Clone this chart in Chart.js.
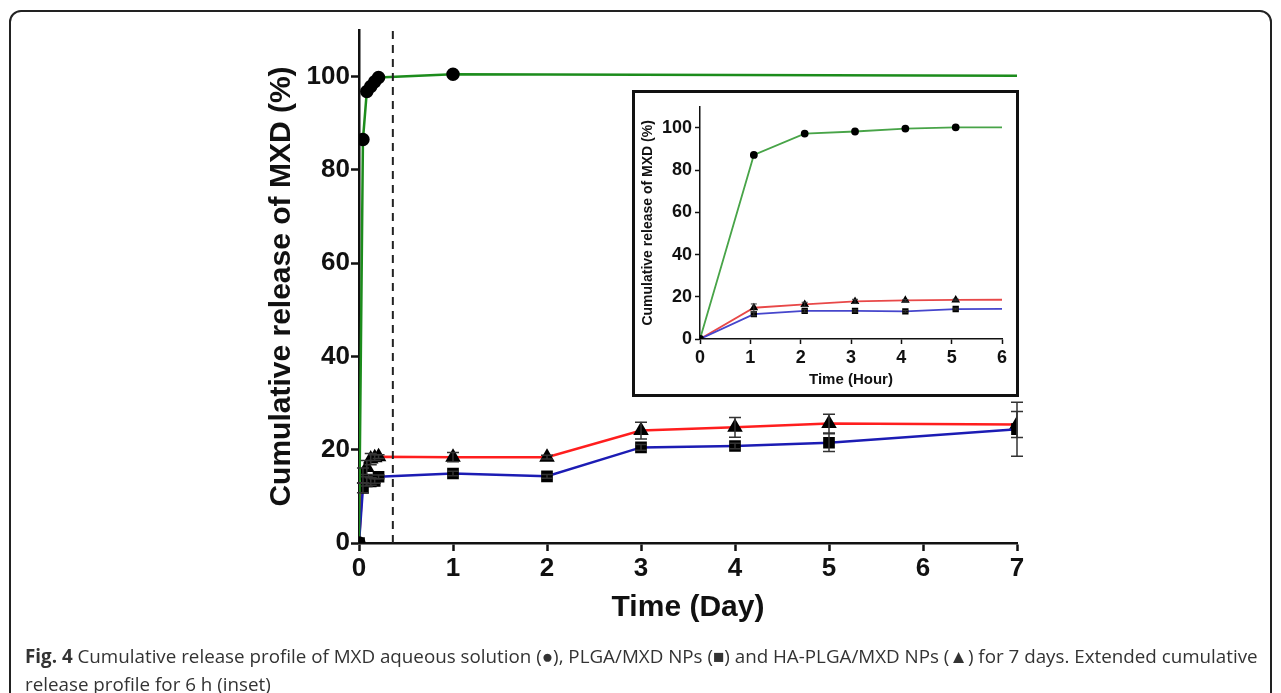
<!DOCTYPE html>
<html>
<head>
<meta charset="utf-8">
<script src="https://cdn.jsdelivr.net/npm/chart.js@4.4.1/dist/chart.umd.min.js"></script>
<style>
    html, body { margin: 0; padding: 0; background: #fff; }
    #page { position: relative; width: 1281px; height: 693px; overflow: hidden; }
    #mainChart { position: absolute; left: 0; top: 0; }
    #frame {
        position: absolute; left: 9px; top: 10px; width: 1263px; height: 720px;
        border: 2px solid #222; border-radius: 12px; box-sizing: border-box; pointer-events: none;
    }
    #insetBox {
        position: absolute; left: 632px; top: 90px; width: 387px; height: 307px;
        border: 3px solid #111; box-sizing: border-box; background: #fff;
    }
    #insetChart { position: absolute; left: 0; top: 0; }
    #caption {
        position: absolute; left: 25px; top: 642px; width: 1250px; white-space: nowrap;
        font-family: "Open Sans", sans-serif; font-size: 18.8px; line-height: 28px; color: #333;
    }
    #caption b { font-weight: 700; }
</style>
</head>
<body>
<div id="page">
    <canvas id="mainChart" width="1281" height="693"></canvas>
    <div id="insetBox"><canvas id="insetChart" width="381" height="301"></canvas></div>
    <div id="frame"></div>
    <div id="caption"><b>Fig. 4</b> Cumulative release profile of MXD aqueous solution (&#9679;), PLGA/MXD NPs (&#9632;) and HA-PLGA/MXD NPs (&#9650;) for 7 days. Extended cumulative<br>release profile for 6 h (inset)</div>
</div>
<script>
// Main plot: time in days (first points are hourly samples)
const mainDays = [0, 0.042, 0.083, 0.125, 0.167, 0.208, 1, 2, 3, 4, 5, 7];
const plgaMain = [0, 11.8, 13.2, 13.2, 13.3, 14.2, 14.9, 14.3, 20.5, 20.8, 21.5, 24.4];
const plgaMainErr = [0, 1.0, 1.0, 0.8, 0.5, 0.4, 0.5, 0.4, 0.6, 0.6, 1.9, 5.8];
const haMain = [0, 14.5, 16.2, 18.0, 18.3, 18.5, 18.4, 18.4, 24.1, 24.8, 25.6, 25.4];
const haMainErr = [0, 1.6, 1.5, 1.2, 0.6, 0.4, 1.0, 0.4, 1.8, 2.1, 2.0, 2.8];
const mxdDays = [0, 0.042, 0.083, 0.125, 0.167, 0.208, 1, 7];
const mxdMain = [0, 86.5, 96.8, 97.9, 98.9, 99.8, 100.5, 100.2];
const dashDay = 0.36;

// Inset: first 6 hours
const insetHours = [0, 1.07, 2.08, 3.08, 4.08, 5.08, 6];
const mxdInset = [0, 87.2, 97.3, 98.3, 99.7, 100.3, 100.3];
const plgaInset = [0, 11.8, 13.3, 13.3, 13.1, 14.2, 14.3];
const plgaInsetErr = [0, 0.8, 0.6, 0.5, 0.4, 0.4, 0];
const haInset = [0, 14.8, 16.4, 17.8, 18.3, 18.5, 18.6];
const haInsetErr = [0, 1.8, 1.0, 1.0, 0.4, 0.4, 0];

const yTicks = [0, 20, 40, 60, 80, 100];
const font = 'Liberation Sans, Arial, sans-serif';

function pts(xs, ys) {
    return xs.map((x, i) => ({ x: x, y: ys[i] }));
}

// draws vertical error bars for datasets that carry an "errors" list
const errorBars = {
    id: 'errorBars',
    afterDatasetsDraw(chart, args, opts) {
        const ctx = chart.ctx;
        const xs = chart.scales.x, ys = chart.scales.y;
        ctx.save();
        ctx.strokeStyle = '#333';
        ctx.lineWidth = opts.width || 1.5;
        chart.data.datasets.forEach(ds => {
            if (!ds.errors) return;
            ds.data.forEach((p, i) => {
                const e = ds.errors[i];
                if (!e) return;
                const px = xs.getPixelForValue(p.x);
                const top = ys.getPixelForValue(p.y + e);
                const bot = ys.getPixelForValue(p.y - e);
                const c = opts.cap || 5;
                ctx.beginPath();
                ctx.moveTo(px, top); ctx.lineTo(px, bot);
                ctx.moveTo(px - c, top); ctx.lineTo(px + c, top);
                ctx.moveTo(px - c, bot); ctx.lineTo(px + c, bot);
                ctx.stroke();
            });
        });
        ctx.restore();
    }
};

function keepTicks(scale) {
    scale.ticks = yTicks.map(v => ({ value: v }));
}

new Chart(document.getElementById('mainChart'), {
    type: 'scatter',
    data: {
        datasets: [
            {
                data: [{ x: dashDay, y: 0 }, { x: dashDay, y: 110 }],
                showLine: true, borderColor: '#222', borderWidth: 2, borderDash: [8, 6], pointRadius: 0
            },
            {
                data: pts(mxdDays, mxdMain), showLine: true, borderColor: '#1c8c1c', borderWidth: 2.5,
                pointStyle: 'circle', pointRadius: mxdDays.map((d, i) => i === mxdDays.length - 1 ? 0 : 5.5),
                pointBackgroundColor: '#000', pointBorderColor: '#000'
            },
            {
                data: pts(mainDays, plgaMain), errors: plgaMainErr, showLine: true, borderColor: '#1c1cb4', borderWidth: 2.5,
                pointStyle: 'rect', pointRadius: 6.5, pointBackgroundColor: '#000', pointBorderColor: '#000'
            },
            {
                data: pts(mainDays, haMain), errors: haMainErr, showLine: true, borderColor: '#ff1e1e', borderWidth: 2.5,
                pointStyle: 'triangle', pointRadius: 6.5, pointBackgroundColor: '#000', pointBorderColor: '#000'
            }
        ]
    },
    options: {
        responsive: false,
        animation: false,
        layout: { padding: { left: 239, right: 264, top: 30, bottom: 50 } },
        plugins: { legend: { display: false }, tooltip: { enabled: false }, errorBars: { cap: 6, width: 1.5 } },
        scales: {
            x: {
                type: 'linear', min: 0, max: 7,
                afterFit: s => { s.height = 100; },
                ticks: { stepSize: 1, color: '#111', padding: 2, font: { family: font, size: 26, weight: 'bold' } },
                grid: { display: true, drawOnChartArea: false, color: '#111', tickLength: 8, tickWidth: 2.5, tickColor: '#111' },
                border: { color: '#111', width: 2.5 },
                title: { display: true, text: 'Time (Day)', color: '#111', padding: { top: 0, bottom: 17 }, font: { family: font, size: 30, weight: 'bold' } }
            },
            y: {
                type: 'linear', min: 0, max: 110,
                afterFit: s => { s.width = 120; },
                afterBuildTicks: keepTicks,
                ticks: { color: '#111', padding: 1, font: { family: font, size: 26, weight: 'bold' } },
                grid: { display: true, drawOnChartArea: false, color: '#111', tickLength: 8, tickWidth: 2.5, tickColor: '#111' },
                border: { color: '#111', width: 2.5 },
                title: { display: true, text: 'Cumulative release of MXD (%)', color: '#111', padding: { top: 25, bottom: 0 }, font: { family: font, size: 30, weight: 'bold' } }
            }
        }
    },
    plugins: [errorBars]
});

new Chart(document.getElementById('insetChart'), {
    type: 'scatter',
    data: {
        datasets: [
            {
                data: pts(insetHours, mxdInset), showLine: true, borderColor: '#48a448', borderWidth: 1.8,
                pointRadius: insetHours.map((h, i) => i === insetHours.length - 1 ? 0 : 3),
                pointBackgroundColor: '#000', pointBorderColor: '#000'
            },
            {
                data: pts(insetHours, plgaInset), errors: plgaInsetErr, showLine: true, borderColor: '#4646cc', borderWidth: 1.8,
                pointStyle: 'rect', pointRadius: insetHours.map((h, i) => i === insetHours.length - 1 ? 0 : 3.2),
                pointBackgroundColor: '#000', pointBorderColor: '#000'
            },
            {
                data: pts(insetHours, haInset), errors: haInsetErr, showLine: true, borderColor: '#e84848', borderWidth: 1.8,
                pointStyle: 'triangle', pointRadius: insetHours.map((h, i) => i === insetHours.length - 1 ? 0 : 3.2),
                pointBackgroundColor: '#000', pointBorderColor: '#000'
            }
        ]
    },
    options: {
        responsive: false,
        animation: false,
        layout: { padding: { left: 5, right: 14, top: 12, bottom: 3 } },
        plugins: { legend: { display: false }, tooltip: { enabled: false }, errorBars: { cap: 3, width: 1 } },
        scales: {
            x: {
                type: 'linear', min: 0, max: 6,
                afterFit: s => { s.height = 52; },
                ticks: { stepSize: 1, color: '#111', padding: 3, font: { family: font, size: 18, weight: 'bold' } },
                grid: { display: true, drawOnChartArea: false, color: '#111', tickLength: 5, tickWidth: 1.5, tickColor: '#111' },
                border: { color: '#111', width: 1.5 },
                title: { display: true, text: 'Time (Hour)', color: '#111', padding: { top: 0, bottom: 2 }, font: { family: font, size: 15, weight: 'bold' } }
            },
            y: {
                type: 'linear', min: 0, max: 110,
                afterFit: s => { s.width = 60; },
                afterBuildTicks: keepTicks,
                ticks: { color: '#111', padding: 3, font: { family: font, size: 18, weight: 'bold' } },
                grid: { display: true, drawOnChartArea: false, color: '#111', tickLength: 5, tickWidth: 1.5, tickColor: '#111' },
                border: { color: '#111', width: 1.5 },
                title: { display: true, text: 'Cumulative release of MXD (%)', color: '#111', padding: { top: 0, bottom: 0 }, font: { family: font, size: 14, weight: 'bold' } }
            }
        }
    },
    plugins: [errorBars]
});
</script>
</body>
</html>
